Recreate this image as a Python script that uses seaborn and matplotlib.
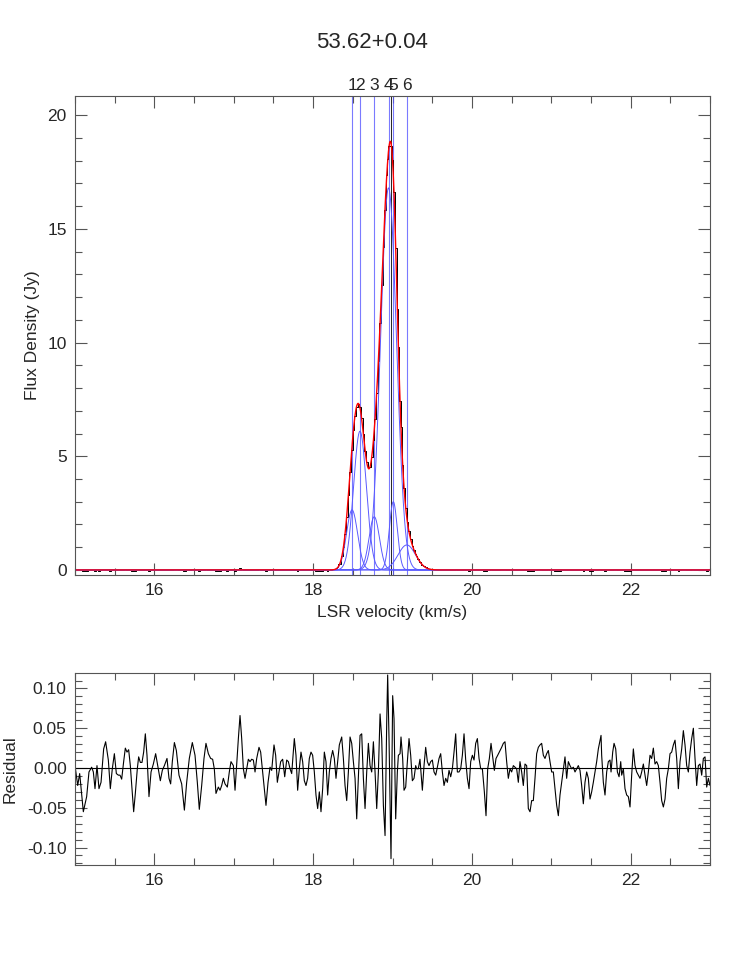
import matplotlib
matplotlib.use("Agg")
import matplotlib.pyplot as plt
import matplotlib.transforms as mtransforms
from matplotlib.ticker import MultipleLocator, FormatStrFormatter
import numpy as np
import pandas as pd
import seaborn as sns

# Titre et composantes gaussiennes du fit
title = "53.62+0.04"
comp_labels = ["1", "2", "3", "4", "5", "6"]
comp_center = [18.49, 18.59, 18.77, 18.95, 19.01, 19.18]
comp_amp = [2.64, 6.1, 2.34, 16.8, 3.0, 1.1]
comp_sigma = [0.07, 0.08, 0.065, 0.10, 0.05, 0.11]
peak_velocity = 18.975

# Résidu (données - fit)
res_velocity = [
    15.000, 15.034, 15.059, 15.105, 15.147, 15.176, 15.210, 15.231, 15.252, 15.277,
    15.302, 15.328, 15.361, 15.386, 15.420, 15.445, 15.470, 15.496, 15.521, 15.546,
    15.567, 15.588, 15.613, 15.634, 15.655, 15.676, 15.697, 15.718, 15.739, 15.760,
    15.785, 15.802, 15.823, 15.844, 15.865, 15.886, 15.907, 15.932, 15.958, 15.987,
    16.016, 16.042, 16.075, 16.100, 16.126, 16.159, 16.184, 16.205, 16.226, 16.252,
    16.277, 16.310, 16.344, 16.378,
    16.407, 16.440, 16.478, 16.512, 16.541, 16.566, 16.596, 16.625, 16.650, 16.680,
    16.709, 16.734, 16.755, 16.776, 16.806, 16.827, 16.848, 16.869, 16.890, 16.919,
    16.944, 16.965, 16.995, 17.016, 17.037, 17.058, 17.079, 17.100, 17.121, 17.142,
    17.163, 17.184, 17.205, 17.226, 17.247, 17.268, 17.289, 17.318, 17.339, 17.360,
    17.381, 17.406, 17.432, 17.457, 17.478, 17.507, 17.528, 17.549, 17.570, 17.591,
    17.616, 17.642, 17.667, 17.688, 17.709,
    17.730, 17.751, 17.763, 17.784, 17.805, 17.826, 17.847, 17.868, 17.889, 17.910,
    17.931, 17.952, 17.973, 17.994, 18.015, 18.036, 18.057, 18.078, 18.099, 18.120,
    18.141, 18.162, 18.183, 18.204, 18.225, 18.246, 18.267, 18.288, 18.309, 18.330,
    18.360, 18.381, 18.402, 18.423, 18.444, 18.465, 18.486, 18.507, 18.528, 18.549,
    18.570, 18.591, 18.612, 18.633, 18.654, 18.675, 18.696, 18.717, 18.738, 18.759,
    18.780, 18.801, 18.822, 18.843, 18.864, 18.885, 18.906, 18.927, 18.939, 18.956,
    18.981, 19.002, 19.019, 19.040,
    19.061, 19.074, 19.095, 19.107, 19.128, 19.145, 19.166, 19.187, 19.208, 19.229,
    19.250, 19.271, 19.292, 19.304, 19.325, 19.346, 19.376, 19.397, 19.418, 19.439,
    19.460, 19.481, 19.502, 19.523, 19.544, 19.565, 19.586, 19.607, 19.628, 19.649,
    19.670, 19.691, 19.712, 19.733, 19.754, 19.775, 19.796, 19.817, 19.838, 19.859,
    19.880, 19.901, 19.922, 19.943, 19.964, 19.985, 20.006, 20.027, 20.048, 20.069,
    20.090, 20.111, 20.132, 20.157, 20.178, 20.199, 20.220, 20.241, 20.262, 20.283,
    20.304, 20.325,
    20.375, 20.396, 20.417, 20.438, 20.459, 20.480, 20.501, 20.522, 20.543, 20.564,
    20.585, 20.606, 20.627, 20.648, 20.669, 20.690, 20.711, 20.732, 20.753, 20.774,
    20.795, 20.816, 20.837, 20.858, 20.879, 20.900, 20.921, 20.942, 20.963, 20.984,
    21.005, 21.026, 21.047, 21.068, 21.089, 21.110, 21.131, 21.152, 21.173, 21.194,
    21.215, 21.236, 21.257, 21.278, 21.299, 21.320, 21.341, 21.362, 21.383, 21.404,
    21.425, 21.446, 21.467, 21.488, 21.509, 21.530, 21.551, 21.572, 21.593, 21.627,
    21.635, 21.656, 21.677, 21.698, 21.719, 21.740, 21.753, 21.774, 21.791, 21.812,
    21.833, 21.854, 21.875, 21.887, 21.908, 21.929, 21.950, 21.971, 21.992, 22.013,
    22.034, 22.055, 22.076, 22.097, 22.118, 22.139, 22.160, 22.181, 22.202, 22.223,
    22.244, 22.265, 22.286, 22.307, 22.328, 22.349, 22.370, 22.391, 22.412, 22.433,
    22.454, 22.475, 22.496, 22.517, 22.538, 22.559, 22.580, 22.601, 22.622, 22.643,
    22.664, 22.685, 22.706, 22.727, 22.748, 22.769, 22.790, 22.811, 22.832, 22.853,
    22.874, 22.895, 22.916, 22.937, 22.958, 22.979, 23.000,
]
res_value = [
    0.003, -0.022, -0.007, -0.055, -0.036, -0.005, 0.001, -0.005, -0.026, 0.003,
    -0.026, -0.018, 0.024, 0.033, 0.010, -0.026, -0.001, 0.018, -0.007, -0.009,
    -0.009, -0.014, 0.008, 0.025, 0.020, 0.023, 0.003, -0.026, -0.055, -0.032,
    -0.001, 0.014, 0.007, 0.007, 0.020, 0.043, 0.016, -0.036, -0.005, 0.005,
    0.018, 0.003, -0.016, -0.003, 0.003, 0.012, -0.013, -0.020, 0.008, 0.032,
    0.022, -0.009, -0.020, -0.053,
    -0.018, 0.012, 0.032, 0.016, -0.018, -0.052, -0.022, 0.012, 0.031, 0.018,
    0.012, 0.011, -0.001, -0.032, -0.024, -0.028, -0.022, -0.013, -0.020, -0.024,
    -0.005, 0.008, 0.003, -0.028, 0.005, 0.037, 0.066, 0.037, -0.001, -0.013,
    -0.001, 0.011, 0.008, 0.011, 0.010, -0.005, 0.012, 0.026, 0.020, -0.001,
    -0.022, -0.047, -0.018, 0.001, -0.003, 0.029, 0.016, -0.018, -0.005, 0.008,
    0.011, -0.011, 0.010, 0.008, -0.001,
    -0.007, 0.020, 0.037, 0.016, -0.028, -0.001, 0.020, 0.008, -0.016, -0.022,
    -0.013, 0.012, 0.020, 0.016, -0.005, -0.034, -0.051, -0.030, -0.055, -0.026,
    0.020, 0.008, -0.034, -0.005, 0.012, 0.022, 0.012, -0.013, 0.008, 0.029,
    0.039, 0.012, -0.022, -0.041, -0.005, 0.039, 0.031, 0.008, -0.013, -0.064,
    -0.013, 0.041, 0.043, -0.013, -0.051, -0.005, 0.031, 0.003, -0.005, 0.033,
    -0.005, -0.051, -0.005, 0.068, 0.037, -0.047, -0.085, 0.058, 0.117, 0.037,
    -0.114, 0.091, 0.062, -0.064,
    -0.005, 0.016, 0.018, 0.039, 0.012, -0.028, -0.024, 0.008, 0.037, 0.016,
    -0.016, -0.013, 0.003, -0.001, -0.001, 0.011, -0.028, 0.003, 0.026, 0.008,
    0.003, 0.008, 0.010, -0.005, -0.009, 0.001, 0.012, 0.018, -0.005, -0.022,
    -0.013, -0.018, -0.003, -0.011, -0.001, 0.020, 0.043, -0.005, -0.005, -0.001,
    0.016, 0.043, 0.010, -0.013, -0.026, 0.008, 0.016, 0.010, 0.031, 0.037,
    0.012, -0.001, -0.001, -0.030, -0.060, -0.001, 0.012, 0.031, 0.014, -0.003,
    0.012, 0.016,
    0.026, 0.031, 0.033, 0.008, -0.013, -0.001, -0.005, 0.003, 0.001, -0.001,
    -0.018, 0.008, -0.005, -0.022, 0.005, 0.003, -0.051, -0.055, -0.041, -0.041,
    -0.013, 0.018, 0.026, 0.029, 0.031, 0.016, 0.012, 0.018, 0.022, 0.008,
    -0.005, -0.005, -0.026, -0.047, -0.060, -0.034, -0.018, -0.001, 0.014, -0.013,
    0.008, 0.003, -0.001, 0.001, -0.005, -0.001, 0.003, -0.003, -0.022, -0.045,
    -0.018, -0.005, -0.013, -0.039, -0.030, -0.018, -0.005, 0.008, 0.024, 0.041,
    0.016, -0.018, -0.034, -0.005, 0.008, 0.010, -0.005, 0.020, 0.031, 0.024,
    -0.005, -0.011, 0.008, -0.009, -0.001, -0.026, -0.034, -0.036, -0.049, -0.009,
    0.024, 0.003, -0.005, -0.009, -0.013, -0.005, 0.005, -0.009, -0.022, -0.005,
    0.016, 0.012, 0.025, 0.005, 0.008, 0.003, -0.018, -0.041, -0.049, -0.039,
    -0.013, -0.001, 0.018, 0.020, 0.029, 0.035, 0.012, -0.026, 0.008, 0.024,
    0.047, 0.029, 0.003, -0.005, 0.020, 0.037, 0.050, 0.012, -0.022, 0.003,
    0.005, -0.009, 0.012, 0.014, -0.024, -0.013, -0.022,
]

sns.set_style("ticks")
plt.rcParams["font.family"] = ["Liberation Sans", "DejaVu Sans"]
plt.rcParams["axes.unicode_minus"] = False

FRAME = "#555555"
LINE_BLUE = (0.35, 0.35, 1.0)


def gauss(v, a, c, s):
    return a * np.exp(-0.5 * ((v - c) / s) ** 2)


def model(v):
    return sum(gauss(v, a, c, s) for a, c, s in zip(comp_amp, comp_center, comp_sigma))


v_model = np.linspace(15, 23, 2001)
res = pd.DataFrame({"velocity": res_velocity, "residual": res_value})
res["flux"] = model(res["velocity"].to_numpy()) + res["residual"]


def style_axes(ax, xminor, ymajor, yminor):
    ax.xaxis.set_major_locator(MultipleLocator(2))
    ax.xaxis.set_minor_locator(MultipleLocator(xminor))
    ax.yaxis.set_major_locator(MultipleLocator(ymajor))
    ax.yaxis.set_minor_locator(MultipleLocator(yminor))
    ax.tick_params(which="both", direction="in", top=True, right=True,
                   color=FRAME, width=0.8, labelsize=12.5, pad=6)
    ax.tick_params(which="major", length=8.5)
    ax.tick_params(which="minor", length=5)
    for sp in ax.spines.values():
        sp.set_color(FRAME)
        sp.set_linewidth(0.8)
        sp.set_visible(True)


fig = plt.figure(figsize=(7.47, 9.61), dpi=100)
ax1 = fig.add_axes([0.1004, 0.4017, 0.8501, 0.4984])
ax2 = fig.add_axes([0.1004, 0.0999, 0.8501, 0.1998])

# Panneau du haut : spectre, fit et composantes
for c in comp_center:
    ax1.axvline(c, color=LINE_BLUE, lw=0.8, alpha=0.8)
ax1.axvline(peak_velocity, color="black", lw=0.6)
sns.lineplot(data=res, x="velocity", y="flux", ax=ax1, color="black", lw=0.7,
             drawstyle="steps-mid", estimator=None, sort=False)
for a, c, s in zip(comp_amp, comp_center, comp_sigma):
    sns.lineplot(x=v_model, y=gauss(v_model, a, c, s), ax=ax1, color=LINE_BLUE,
                 lw=0.7, estimator=None)
sns.lineplot(x=v_model, y=model(v_model), ax=ax1, color="red", lw=1.0, estimator=None)

trans = mtransforms.blended_transform_factory(ax1.transData, ax1.transAxes)
for lab, c in zip(comp_labels, comp_center):
    ax1.text(c, 1.021, lab, transform=trans, ha="center", va="center", fontsize=12.5)

ax1.set_xlim(15, 23)
ax1.set_ylim(-0.22, 20.84)
style_axes(ax1, 0.5, 5, 1)
ax1.set_xlabel("LSR velocity (km/s)", fontsize=12.5)
ax1.xaxis.set_label_coords(0.5, -0.063)
ax1.set_ylabel("Flux Density (Jy)", fontsize=12.5)
ax1.yaxis.set_label_coords(-0.055, 0.5)

# Panneau du bas : résidu
ax2.axhline(0, color="black", lw=0.8)
sns.lineplot(data=res, x="velocity", y="residual", ax=ax2, color="black", lw=0.8,
             estimator=None, sort=False)
ax2.set_xlim(15, 23)
ax2.set_ylim(-0.122, 0.1195)
style_axes(ax2, 0.5, 0.05, 0.01)
ax2.yaxis.set_major_formatter(FormatStrFormatter("%.2f"))
ax2.set_xlabel("")
ax2.set_ylabel("Residual", fontsize=12.5)
ax2.yaxis.set_label_coords(-0.09, 0.5)

fig.text(0.498, 0.956, title, ha="center", va="center", fontsize=16)

fig.savefig("out.png", dpi=100)
plt.close(fig)
